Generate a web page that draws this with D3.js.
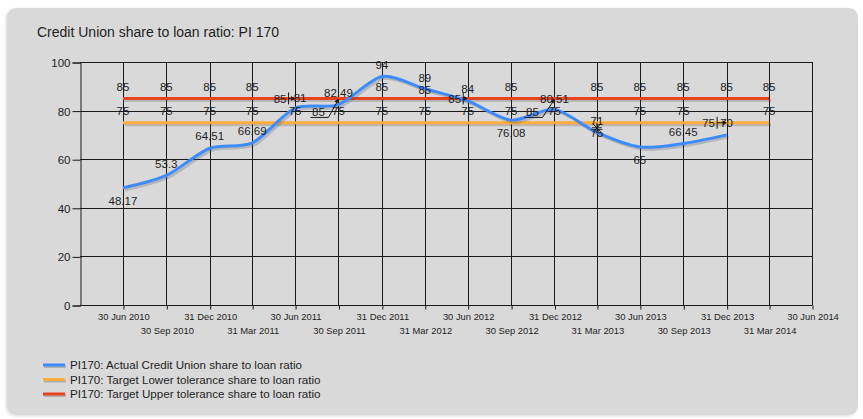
<!DOCTYPE html>
<html>
<head>
<meta charset="utf-8">
<script src="https://cdn.jsdelivr.net/npm/d3@7"></script>
<style>
  html, body { margin: 0; padding: 0; background: #ffffff; }
  svg { display: block; font-family: "Liberation Sans", Arial, sans-serif; }
</style>
</head>
<body>
<svg id="chart" width="863" height="419"></svg>
<script>
// Quarter-end reporting dates (one per data point)
const quarterDates = ["2010-06-30", "2010-09-30", "2010-12-31", "2011-03-31", "2011-06-30", "2011-09-30",
  "2011-12-31", "2012-03-31", "2012-06-30", "2012-09-30", "2012-12-31", "2013-03-31",
  "2013-06-30", "2013-09-30", "2013-12-31", "2014-03-31"];

// Axis tick dates and their labels
const tickDates = ["2010-06-30", "2010-09-30", "2010-12-31", "2011-03-31", "2011-06-30", "2011-09-30",
  "2011-12-31", "2012-03-31", "2012-06-30", "2012-09-30", "2012-12-31", "2013-03-31",
  "2013-06-30", "2013-09-30", "2013-12-31", "2014-03-31", "2014-06-30"];
const tickLabels = ["30 Jun 2010", "30 Sep 2010", "31 Dec 2010", "31 Mar 2011", "30 Jun 2011", "30 Sep 2011",
  "31 Dec 2011", "31 Mar 2012", "30 Jun 2012", "30 Sep 2012", "31 Dec 2012", "31 Mar 2013",
  "30 Jun 2013", "30 Sep 2013", "31 Dec 2013", "31 Mar 2014", "30 Jun 2014"];
const yTicks = [0, 20, 40, 60, 80, 100];

// Series values
const actualRatio = [48.17, 53.3, 64.51, 66.69, 81, 82.49, 94, 89, 84, 76.08, 80.51, 71, 65, 66.45, 70];
const lowerTolerance = [75, 75, 75, 75, 75, 75, 75, 75, 75, 75, 75, 75, 75, 75, 75, 75];
const upperTolerance = [85, 85, 85, 85, 85, 85, 85, 85, 85, 85, 85, 85, 85, 85, 85, 85];

const seriesNames = [
  "PI170: Actual Credit Union share to loan ratio",
  "PI170: Target Lower tolerance share to loan ratio",
  "PI170: Target Upper tolerance share to loan ratio"
];
const seriesColors = ["#3d8bff", "#ffac3a", "#e8431c"];

// Smart-label placement: dy is the label offset from its point; dx a sideways shift;
// callout: "bar" (vertical tick + arrow), "leader" (underline + line to point), "star"
const labelLayout = {
  actual: {
    0: { dy: 13 }, 7: { dy: -11 }, 9: { dy: 13 }, 12: { dy: 13 },
    10: { dy: -11 }, 4: { dy: -10, dx: 5 }, 14: { dy: -12 }
  },
  upper: {
    4: { dx: -15, dy: 0, callout: "bar" },
    5: { dx: -20, dy: 13, callout: "leader" },
    7: { dy: -9 },
    8: { dx: -13, dy: 0, callout: "bar" },
    10: { dx: -22, dy: 13, callout: "leader" }
  },
  lower: {
    11: { dy: 10, callout: "star" },
    14: { dx: -18, dy: 0, callout: "bar" }
  }
};

const svg = d3.select("#chart");
const W = 863, H = 419;

// Panel background
const defs = svg.append("defs");
const flt = defs.append("filter").attr("id", "panelShadow").attr("x", "-5%").attr("y", "-5%").attr("width", "110%").attr("height", "110%");
flt.append("feGaussianBlur").attr("in", "SourceAlpha").attr("stdDeviation", 1.5);
flt.append("feOffset").attr("dx", -1).attr("dy", 1).attr("result", "o");
flt.append("feComponentTransfer").append("feFuncA").attr("type", "linear").attr("slope", 0.15);
const m = flt.append("feMerge");
m.append("feMergeNode");
m.append("feMergeNode").attr("in", "SourceGraphic");

svg.append("rect").attr("x", 0).attr("y", 0).attr("width", W).attr("height", H).attr("fill", "#ffffff");
svg.append("rect")
  .attr("x", 7).attr("y", 8).attr("width", 851).attr("height", 407)
  .attr("rx", 9).attr("ry", 9)
  .attr("fill", "#d9d9d9")
  .attr("filter", "url(#panelShadow)");

// Title
svg.append("text")
  .attr("x", 37).attr("y", 37)
  .attr("font-size", 14).attr("fill", "#1e1e1e")
  .text("Credit Union share to loan ratio: PI 170");

// Plot area
const plot = { left: 80, right: 812, top: 62, bottom: 305 };
const parse = d3.utcParse("%Y-%m-%d");

const x = d3.scaleUtc()
  .domain([parse("2010-03-31"), parse("2014-06-30")])
  .range([plot.left, plot.right]);
const y = d3.scaleLinear().domain([0, 100]).range([plot.bottom, plot.top]);

const g = svg.append("g");

// Gridlines
g.append("g").selectAll("line").data(yTicks).join("line")
  .attr("x1", plot.left).attr("x2", plot.right)
  .attr("y1", d => Math.round(y(d)) + 0.5).attr("y2", d => Math.round(y(d)) + 0.5)
  .attr("stroke", "#1a1a1a").attr("stroke-width", 1);
g.append("g").selectAll("line").data(tickDates).join("line")
  .attr("x1", d => Math.round(x(parse(d))) + 0.5).attr("x2", d => Math.round(x(parse(d))) + 0.5)
  .attr("y1", plot.top).attr("y2", plot.bottom)
  .attr("stroke", "#1a1a1a").attr("stroke-width", 1);

// Y axis
const yAxis = d3.axisLeft(y).tickValues(yTicks).tickSize(8).tickPadding(2).tickFormat(d3.format("d"));
const yg = svg.append("g").attr("transform", `translate(${plot.left + 0.5},0.5)`).call(yAxis);
yg.select(".domain").attr("stroke", "#1a1a1a");
yg.selectAll(".tick line").attr("stroke", "#1a1a1a");
yg.selectAll(".tick text").attr("font-size", 11.5).attr("fill", "#1e1e1e")
  .attr("font-family", "'Liberation Sans', Arial, sans-serif").attr("dy", "0.35em");

// X axis (labels staggered in two rows)
const xAxis = d3.axisBottom(x)
  .tickValues(tickDates.map(parse))
  .tickSize(4).tickSizeOuter(0)
  .tickFormat((d, i) => tickLabels[i]);
const xg = svg.append("g").attr("transform", `translate(0.5,${plot.bottom + 0.5})`).call(xAxis);
xg.select(".domain").attr("stroke", "#1a1a1a").attr("d", `M${plot.left},0H${plot.right}`);
xg.selectAll(".tick line").attr("stroke", "#1a1a1a");
xg.selectAll(".tick text")
  .attr("font-size", 9.4).attr("fill", "#1e1e1e")
  .attr("font-family", "'Liberation Sans', Arial, sans-serif")
  .attr("dy", null)
  .attr("y", (d, i) => (i % 2 === 0 ? 14 : 28));

// Series
const actualPts = actualRatio.map((v, i) => ({ date: parse(quarterDates[i]), v, i }));
const lowerPts = lowerTolerance.map((v, i) => ({ date: parse(quarterDates[i]), v, i }));
const upperPts = upperTolerance.map((v, i) => ({ date: parse(quarterDates[i]), v, i }));

const spline = d3.line().x(d => x(d.date)).y(d => y(d.v)).curve(d3.curveCardinal.tension(0.2));
const straight = d3.line().x(d => x(d.date)).y(d => y(d.v));

function drawSeries(pts, gen, color) {
  g.append("path").datum(pts).attr("d", gen)
    .attr("fill", "none").attr("stroke", "rgba(60,60,60,0.22)").attr("stroke-width", 3)
    .attr("transform", "translate(2,2)");
  g.append("path").datum(pts).attr("d", gen)
    .attr("fill", "none").attr("stroke", color).attr("stroke-width", 3);
}
drawSeries(lowerPts, straight, seriesColors[1]);
drawSeries(upperPts, straight, seriesColors[2]);
drawSeries(actualPts, spline, seriesColors[0]);

// Data labels
const fmt = v => String(+v.toFixed(2));
const lab = svg.append("g").attr("font-size", 11.5).attr("fill", "#1e1e1e").attr("text-anchor", "middle");

function drawLabels(pts, layout) {
  pts.forEach(p => {
    const o = layout[p.i] || {};
    const px = x(p.date), py = y(p.v);
    const lx = px + (o.dx || 0);
    const ly = py + (o.dy !== undefined ? o.dy : -12);
    lab.append("text").attr("x", lx).attr("y", ly).attr("dy", "0.36em").text(fmt(p.v));
    if (o.callout === "bar") {
      lab.append("line").attr("x1", lx + 8.5).attr("x2", lx + 8.5).attr("y1", ly - 6).attr("y2", ly + 6)
        .attr("stroke", "#1a1a1a");
      lab.append("line").attr("x1", lx + 8.5).attr("x2", px - 1).attr("y1", py).attr("y2", py)
        .attr("stroke", "#1a1a1a");
      lab.append("path").attr("d", `M${px},${py}l-4,-2.5v5z`).attr("fill", "#1a1a1a");
    } else if (o.callout === "leader") {
      const ux = ly + 6;
      lab.append("path")
        .attr("d", `M${lx - 8},${ux}H${lx + 10}L${px},${py + 1}`)
        .attr("fill", "none").attr("stroke", "#1a1a1a");
      lab.append("path").attr("d", `M${px},${py}l-1,5l-3,-2z`).attr("fill", "#1a1a1a");
    } else if (o.callout === "star") {
      const sy = (py + ly) / 2;
      lab.append("path")
        .attr("d", `M${px - 5},${sy}H${px + 5}M${px},${sy - 5}V${sy + 5}M${px - 4},${sy - 4}L${px + 4},${sy + 4}M${px - 4},${sy + 4}L${px + 4},${sy - 4}`)
        .attr("stroke", "#1a1a1a").attr("stroke-width", 1);
    }
  });
}
drawLabels(upperPts, labelLayout.upper);
drawLabels(lowerPts, labelLayout.lower);
drawLabels(actualPts, labelLayout.actual);

// Legend
const legend = svg.append("g").attr("transform", "translate(43,365)");
seriesNames.forEach((name, i) => {
  const row = legend.append("g").attr("transform", `translate(0,${i * 14.5})`);
  row.append("line").attr("x1", 1).attr("x2", 23).attr("y1", 1.5).attr("y2", 1.5)
    .attr("stroke", "rgba(60,60,60,0.25)").attr("stroke-width", 3);
  row.append("line").attr("x1", 0).attr("x2", 22).attr("y1", 0).attr("y2", 0)
    .attr("stroke", seriesColors[i]).attr("stroke-width", 3);
  row.append("text").attr("x", 27).attr("y", 0).attr("dy", "0.36em")
    .attr("font-size", 11.6).attr("fill", "#1e1e1e").text(name);
});
</script>
</body>
</html>
